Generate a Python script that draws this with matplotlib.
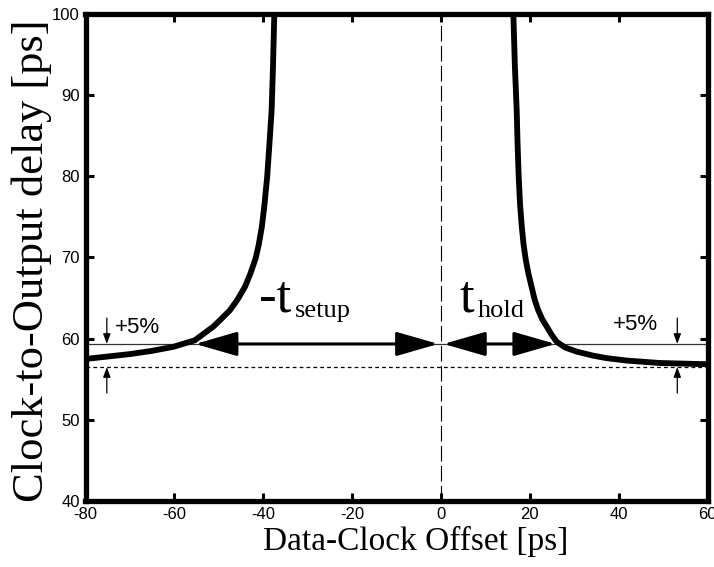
import matplotlib.pyplot as plt

plt.rcParams['axes.unicode_minus'] = False

# delay curve (left branch = setup side, right = hold side)
left_x = [-80, -75, -70, -65, -60.2, -55.4, -51.2, -49.5, -47.5, -45.8, -44.1, -42.9,
          -41.7, -41.0, -40.3, -39.7, -39.1, -38.6, -38.1, -37.8, -37.5]
left_y = [57.5, 57.8, 58.1, 58.5, 59.0, 59.8, 61.5, 62.4, 63.5, 64.8, 66.4, 68.0,
          69.9, 71.6, 73.8, 76.6, 80.0, 84.0, 88.2, 93.5, 100.0]
right_x = [16.3, 16.65, 17.05, 17.25, 17.5, 17.8, 18.2, 18.6, 19.1, 19.7, 20.4, 21.1,
           21.9, 22.8, 23.8, 24.9, 26.1, 28.0, 30.6, 34.3, 37.3, 41.8, 49.3, 60]
right_y = [100.0, 93.5, 88.2, 84.0, 80.0, 76.6, 73.8, 71.6, 69.7, 68.0, 66.4, 64.8,
           63.5, 62.4, 61.5, 60.5, 59.6, 58.9, 58.4, 57.9, 57.6, 57.3, 57.0, 56.85]

nominal = 56.5       # asymptotic delay
plus5 = 59.35        # +5% level
setup_span = (-55.3, -0.6)
hold_span = (0.6, 25.8)
marker_x = [-75.2, 53.2]

xticks = [-80, -60, -40, -20, 0, 20, 40, 60]
yticks = [40, 50, 60, 70, 80, 90, 100]

serif = ['Liberation Serif', 'DejaVu Serif']
narrow = ['Liberation Sans Narrow', 'DejaVu Sans Condensed', 'Liberation Sans']
sans = ['Liberation Sans', 'DejaVu Sans']

fig = plt.figure(figsize=(7.14, 5.67), dpi=100)
ax = fig.add_axes([85.5 / 714, 1 - 501 / 567, 622 / 714, 487 / 567])

ax.axhline(plus5, color='#333333', lw=0.9, zorder=1)
ax.axhline(nominal, color='black', lw=0.9, dashes=(3, 2.5), zorder=1)
ax.axvline(0, color='black', lw=0.8, dashes=(14, 4), zorder=1)

ax.plot(left_x, left_y, color='black', lw=4.2, solid_joinstyle='round', zorder=3)
ax.plot(right_x, right_y, color='black', lw=4.2, solid_joinstyle='round', zorder=3)

big = dict(arrowstyle='<|-|>,head_length=26,head_width=7.5', mutation_scale=1,
           lw=2.2, color='black', shrinkA=0, shrinkB=0)
ax.annotate('', xy=(setup_span[0], plus5), xytext=(setup_span[1], plus5), arrowprops=big, zorder=4)
ax.annotate('', xy=(hold_span[0], plus5), xytext=(hold_span[1], plus5), arrowprops=big, zorder=4)

small = dict(arrowstyle='-|>,head_length=6,head_width=2.2', mutation_scale=1,
             lw=0.9, color='black', shrinkA=0, shrinkB=0)
for mx in marker_x:
    ax.annotate('', xy=(mx, plus5), xytext=(mx, plus5 + 3.2), arrowprops=small)
    ax.annotate('', xy=(mx, nominal), xytext=(mx, nominal - 3.2), arrowprops=small)

ax.text(-73.4, 60.7, '+5%', fontsize=16, family=sans, va='baseline')
ax.text(38.7, 61.1, '+5%', fontsize=16, family=sans, va='baseline')

ax.text(-40.9, 63.3, '-t', fontsize=38, family=serif, va='baseline')
ax.text(-32.8, 62.7, 'setup', fontsize=19, family=serif, va='baseline')
ax.text(4.1, 63.3, 't', fontsize=38, family=serif, va='baseline')
ax.text(8.3, 62.7, 'hold', fontsize=19, family=serif, va='baseline')

ax.set_xlim(-80, 60)
ax.set_ylim(40, 100)
ax.set_xticks(xticks)
ax.set_yticks(yticks)
ax.tick_params(direction='in', length=6, width=2.2, top=True, right=True,
               labelsize=12, pad=4)
for lab in ax.get_xticklabels() + ax.get_yticklabels():
    lab.set_family(narrow)
for s in ax.spines.values():
    s.set_linewidth(3.8)

ax.set_xlabel('Data-Clock Offset [ps]', fontsize=24, family=serif)
ax.set_ylabel('Clock-to-Output delay [ps]', fontsize=32, family=serif)
ax.xaxis.set_label_coords(0.531, -0.052)
ax.yaxis.set_label_coords(-0.054, 0.493)
ax.xaxis.label.set_va('top')

fig.savefig('out.png', dpi=100)
